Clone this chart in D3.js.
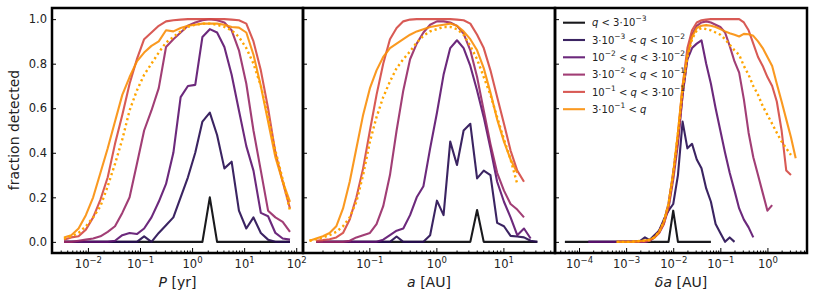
<!DOCTYPE html>
<html>
<head>
<meta charset="utf-8">
<script src="https://cdn.jsdelivr.net/npm/d3@7"></script>
<style>
  body { margin: 0; background: #fff; }
  text { font-family: "DejaVu Sans", sans-serif; }
</style>
</head>
<body>
<svg width="814" height="301"></svg>
<script>
// periode-bins [yr]
const periods = [0.00347, 0.00479, 0.00661, 0.00912, 0.0126, 0.0174, 0.0240, 0.0331, 0.0457, 0.0631,
  0.0871, 0.120, 0.166, 0.229, 0.316, 0.437, 0.603, 0.832, 1.15, 1.58, 2.19, 3.02, 4.17, 5.75,
  7.94, 11.0, 15.1, 20.9, 28.8, 39.8, 55.0, 75.9];
const pBlack = [0,0,0,0,0,0,0,0,0,0,0,0,0,0,0,0,0,0,0,0,0.2,0,0,0,0,0,0,0,0,0,0,0];
const pNavy = [0,0,0,0,0,0,0,0,0,0,0,0.025,0,0.04,0.075,0.11,0.2,0.29,0.4,0.54,0.58,0.48,0.33,0.36,
  0.14,0.06,0.11,0.04,0.01,0,0,0];
const pPurple = [0,0,0,0,0,0,0,0.005,0.03,0.04,0.035,0.06,0.11,0.18,0.26,0.4,0.65,0.7,0.705,0.92,
  0.955,0.94,0.875,0.75,0.59,0.43,0.32,0.13,0.115,0.04,0.015,0.01];
const pMagenta = [0,0,0.005,0.01,0.015,0.025,0.045,0.07,0.13,0.2,0.35,0.5,0.59,0.69,0.875,0.91,0.94,
  0.97,0.985,0.995,1.0,0.995,0.985,0.95,0.86,0.71,0.5,0.32,0.14,0.11,0.09,0.045];
const pRed = [0.01,0.02,0.025,0.055,0.11,0.19,0.29,0.44,0.57,0.71,0.82,0.91,0.94,0.97,0.99,0.995,0.998,
  1,1,1,1,1,1,0.998,0.995,0.98,0.9,0.77,0.6,0.4,0.27,0.15];
const pOrange = [0.02,0.03,0.06,0.12,0.2,0.31,0.42,0.54,0.66,0.74,0.81,0.85,0.88,0.9,0.95,0.945,0.96,
  0.97,0.975,0.98,0.98,0.98,0.975,0.965,0.962,0.94,0.84,0.7,0.54,0.38,0.27,0.18];
const pDotted = [0.015,0.025,0.04,0.07,0.11,0.16,0.25,0.35,0.46,0.59,0.68,0.75,0.8,0.85,0.895,0.92,
  0.945,0.965,0.975,0.98,0.98,0.975,0.965,0.95,0.92,0.87,0.8,0.7,0.56,0.41,0.28,0.14];

// halve lange as [AU]
const semiAxes = [0.0128, 0.0161, 0.0203, 0.0255, 0.0321, 0.0405, 0.0509, 0.0641, 0.0807, 0.102,
  0.128, 0.161, 0.203, 0.255, 0.321, 0.405, 0.509, 0.641, 0.807, 1.02, 1.28, 1.61, 2.03, 2.55,
  3.21, 4.05, 5.09, 6.41, 8.07, 10.2, 12.8, 16.1, 20.3, 25.5, 32.1];
const aBlack = [null,null,0,0,0,0,0,0,0,0,0,0,0,0,0,0,0,0,0,0,0,0,0,0,0,0.143,0,0,0,0,0,0,0,0,0];
const aNavy = [null,null,0,0,0,0,0,0,0,0,0,0,0,0.024,0,0,0,0,0.03,0.185,0.12,0.45,0.345,0.5,0.53,
  0.285,0.32,0.3,0.085,0.07,0.027,0.024,0.02,0.005,0];
const aPurple = [null,0,0,0,0,0,0,0,0,0,0,0.01,0.03,0.05,0.06,0.12,0.2,0.25,0.42,0.58,0.75,0.87,0.905,
  0.87,0.79,0.68,0.56,0.42,0.27,0.18,0.11,0.03,0.06,0.015,null];
const aMagenta = [null,0,0,0,0,0,0.005,0.02,0.03,0.04,0.08,0.16,0.3,0.5,0.68,0.82,0.89,0.94,0.975,0.99,
  0.99,0.985,0.97,0.935,0.86,0.74,0.59,0.44,0.31,0.23,0.17,0.145,0.11,null,null];
const aRed = [null,0.005,0.008,0.012,0.02,0.04,0.1,0.2,0.33,0.5,0.66,0.8,0.91,0.96,0.99,0.998,1,1,1,1,
  1,1,0.998,0.995,0.98,0.93,0.87,0.77,0.65,0.53,0.41,0.32,0.27,null,null];
const aOrange = [0.005,0.015,0.025,0.04,0.07,0.15,0.27,0.42,0.57,0.69,0.77,0.83,0.87,0.89,0.91,0.93,
  0.945,0.955,0.965,0.97,0.975,0.98,0.97,0.945,0.91,0.86,0.78,0.67,0.55,0.45,0.37,0.31,null,null,null];
const aDotted = [0.005,0.012,0.02,0.03,0.045,0.07,0.11,0.18,0.3,0.45,0.56,0.65,0.72,0.78,0.82,0.855,
  0.895,0.925,0.945,0.955,0.965,0.965,0.955,0.93,0.88,0.82,0.74,0.66,0.56,0.46,0.37,0.26,null,null,null];

// delta a [AU]
const deltaA = [5.01e-5, 6.31e-5, 7.94e-5, 1.00e-4, 1.26e-4, 1.58e-4, 2.00e-4, 2.51e-4, 3.16e-4, 3.98e-4,
  5.01e-4, 6.31e-4, 7.94e-4, 1.00e-3, 1.26e-3, 1.58e-3, 2.00e-3, 2.51e-3, 3.16e-3, 3.98e-3,
  5.01e-3, 6.31e-3, 7.94e-3, 0.0100, 0.0126, 0.0158, 0.0200, 0.0251, 0.0316, 0.0398,
  0.0501, 0.0631, 0.0794, 0.100, 0.126, 0.158, 0.200, 0.251, 0.316, 0.398,
  0.501, 0.631, 0.794, 1.00, 1.26, 1.58, 2.00, 2.51, 3.16, 3.98];
const dBlack = [0,0,0,0,0,0,0,0,0,0,0,0,0,0,0,0,0,0,0,0,0,0,0,0.14,0,0,0,0,0,0,0,0,
  null,null,null,null,null,null,null,null,null,null,null,null,null,null,null,null,null,null];
const dNavy = [null,null,null,null,null,0,0,0,0,0,0,0,0,0,0,0,0.005,0.02,0.008,0.03,0.05,0.1,0.14,0.17,
  0.3,0.54,0.42,0.44,0.37,0.33,0.24,0.18,0.08,0.04,0,0.02,0,
  null,null,null,null,null,null,null,null,null,null,null,null,null];
const dPurple = [null,null,null,null,null,0,0,0,0,0,0,0,0,0,0,0,0,0,0.005,0.02,0.05,0.09,0.17,0.31,
  0.46,0.66,0.82,0.87,0.89,0.905,0.8,0.71,0.6,0.5,0.4,0.31,0.23,0.15,0.1,0.065,0.02,
  null,null,null,null,null,null,null,null,null];
const dMagenta = [null,null,null,null,null,null,null,null,null,null,null,0,0,0,0,0,0,0,0.005,0.02,0.04,
  0.08,0.15,0.28,0.44,0.66,0.83,0.93,0.97,0.985,0.99,0.985,0.975,0.965,0.94,0.88,0.81,0.76,0.64,
  0.49,0.38,0.3,0.22,0.14,0.165,null,null,null,null,null];
const dRed = [null,null,null,null,null,null,null,null,null,null,null,0,0,0,0,0,0.002,0.003,0.006,0.02,
  0.04,0.08,0.16,0.3,0.48,0.7,0.87,0.95,0.985,0.995,0.998,1,1,1,1,1,1,1,0.985,0.95,0.89,0.83,0.79,
  0.74,0.7,0.63,0.5,0.32,0.3,null];
const dOrange = [null,null,null,null,null,null,null,null,null,null,null,0,0,0,0,0.002,0.004,0.006,0.01,
  0.02,0.045,0.09,0.17,0.31,0.49,0.7,0.84,0.92,0.96,0.97,0.973,0.97,0.965,0.955,0.945,0.937,0.93,
  0.922,0.934,0.932,0.925,0.9,0.87,0.83,0.79,0.71,0.63,0.55,0.47,0.375];
const dDotted = [null,null,null,null,null,null,null,null,null,null,null,0,0,0,0,0.002,0.004,0.006,0.008,
  0.02,0.045,0.09,0.17,0.31,0.49,0.68,0.83,0.91,0.95,0.96,0.955,0.95,0.94,0.93,0.91,0.885,0.86,
  0.84,0.79,0.75,0.7,0.66,0.61,0.57,0.53,0.49,0.45,0.42,0.39,null];

const qLabels = ["q < 3·10^{−3}", "3·10^{−3} < q < 10^{−2}", "10^{−2} < q < 3·10^{−2}",
  "3·10^{−2} < q < 10^{−1}", "10^{−1} < q < 3·10^{−1}", "3·10^{−1} < q"];
const yTicks = [0, 0.2, 0.4, 0.6, 0.8, 1.0];

const lineColors = ["#000004", "#260c51", "#5c126e", "#972966", "#d44842", "#f98e09"];
const dotColor = "#ffa500";

const svg = d3.select("svg");
const plotTop = 8, plotBottom = 253;
const yScale = d3.scaleLinear().domain([-0.05, 1.05]).range([plotBottom, plotTop]);

// tekst met superscript en cursieve q
function rich(sel, str, supSize) {
  const parts = str.split(/(\^\{[^}]*\}|q)/);
  let shift = 0;
  parts.forEach(p => {
    if (!p) return;
    const ts = sel.append("tspan");
    if (p.startsWith("^{")) {
      ts.text(p.slice(2, -1)).attr("font-size", supSize).attr("dy", -5);
      shift = 5;
    } else {
      ts.text(p).attr("dy", shift);
      shift = 0;
      if (p === "q") ts.attr("font-style", "italic");
    }
  });
}

const panels = [
  { left: 52, right: 303, domain: [Math.pow(10, -2.69), Math.pow(10, 2.13)], xs: periods,
    series: [pBlack, pNavy, pPurple, pMagenta, pRed, pOrange], dotted: pDotted,
    label: [["P", true], [" [yr]", false]] },
  { left: 303, right: 555, domain: [Math.pow(10, -1.99), Math.pow(10, 1.77)], xs: semiAxes,
    series: [aBlack, aNavy, aPurple, aMagenta, aRed, aOrange], dotted: aDotted,
    label: [["a", true], [" [AU]", false]] },
  { left: 555, right: 807, domain: [Math.pow(10, -4.51), Math.pow(10, 0.84)], xs: deltaA,
    series: [dBlack, dNavy, dPurple, dMagenta, dRed, dOrange], dotted: dDotted,
    label: [["δa", true], [" [AU]", false]] }
];

panels.forEach((p, pi) => {
  const x = d3.scaleLog().domain(p.domain).range([p.left, p.right]);
  const g = svg.append("g");

  const line = d3.line()
    .defined(d => d[1] != null)
    .x(d => x(d[0]))
    .y(d => yScale(d[1]));

  p.series.forEach((s, i) => {
    g.append("path")
      .datum(p.xs.map((v, j) => [v, s[j]]))
      .attr("d", line)
      .attr("fill", "none")
      .attr("stroke", lineColors[i])
      .attr("stroke-opacity", 0.9)
      .attr("stroke-width", 2.1)
      .attr("stroke-linejoin", "round");
  });

  g.append("path")
    .datum(p.xs.map((v, j) => [v, p.dotted[j]]))
    .attr("d", line)
    .attr("fill", "none")
    .attr("stroke", dotColor)
    .attr("stroke-width", 2.4)
    .attr("stroke-dasharray", "2.2 3");

  // ticks
  const [lo, hi] = x.domain().map(Math.log10);
  const majors = [], minors = [];
  for (let e = Math.floor(lo); e <= Math.ceil(hi); e++) {
    for (let m = 1; m <= 9; m++) {
      const v = m * Math.pow(10, e);
      if (Math.log10(v) < lo || Math.log10(v) > hi) continue;
      (m === 1 ? majors : minors).push(v);
    }
  }

  const xMinor = g.append("g").attr("transform", `translate(0,${plotBottom})`)
    .call(d3.axisBottom(x).tickValues(minors).tickSize(-2.5).tickFormat(""));
  xMinor.select(".domain").remove();

  const xMajor = g.append("g").attr("transform", `translate(0,${plotBottom})`)
    .call(d3.axisBottom(x).tickValues(majors).tickSize(-5).tickFormat(""));
  xMajor.select(".domain").remove();
  xMajor.selectAll(".tick text").remove();
  xMajor.selectAll(".tick").append("text")
    .attr("y", 15)
    .attr("text-anchor", "middle")
    .attr("font-size", 11.5)
    .attr("fill", "#222")
    .each(function(d) {
      rich(d3.select(this), "10^{" + String(Math.round(Math.log10(d))).replace("-", "−") + "}", 8.5);
    });

  const yAxis = g.append("g").attr("transform", `translate(${p.left},0)`)
    .call(d3.axisLeft(yScale).tickValues(yTicks).tickSize(-4).tickPadding(5)
      .tickFormat(pi === 0 ? d3.format(".1f") : ""));
  yAxis.select(".domain").remove();
  yAxis.selectAll(".tick text").attr("font-size", 11.5).attr("fill", "#222");

  g.selectAll(".tick line").attr("stroke", "#000").attr("stroke-width", 1);
  g.selectAll("g").attr("font-family", null);

  // kader
  g.append("rect")
    .attr("x", p.left).attr("y", plotTop)
    .attr("width", p.right - p.left).attr("height", plotBottom - plotTop)
    .attr("fill", "none").attr("stroke", "#000").attr("stroke-width", 2.5);

  const lab = g.append("text")
    .attr("x", (p.left + p.right) / 2).attr("y", 287)
    .attr("text-anchor", "middle").attr("font-size", 14).attr("fill", "#222");
  p.label.forEach(([t, it]) => {
    const ts = lab.append("tspan").text(t);
    if (it) ts.attr("font-style", "italic");
  });
});

svg.append("text")
  .attr("transform", "translate(14,130) rotate(-90)")
  .attr("text-anchor", "middle")
  .attr("dominant-baseline", "central")
  .attr("font-size", 14).attr("fill", "#222")
  .text("fraction detected");

// legenda
const legend = svg.append("g");
qLabels.forEach((lbl, i) => {
  const yy = 22.7 + 17.3 * i;
  legend.append("line")
    .attr("x1", 563).attr("x2", 585).attr("y1", yy).attr("y2", yy)
    .attr("stroke", lineColors[i]).attr("stroke-opacity", 0.9).attr("stroke-width", 2.1);
  const t = legend.append("text")
    .attr("x", 592).attr("y", yy + 3.6)
    .attr("font-size", 10).attr("fill", "#222");
  rich(t, lbl, 7.5);
});
</script>
</body>
</html>
